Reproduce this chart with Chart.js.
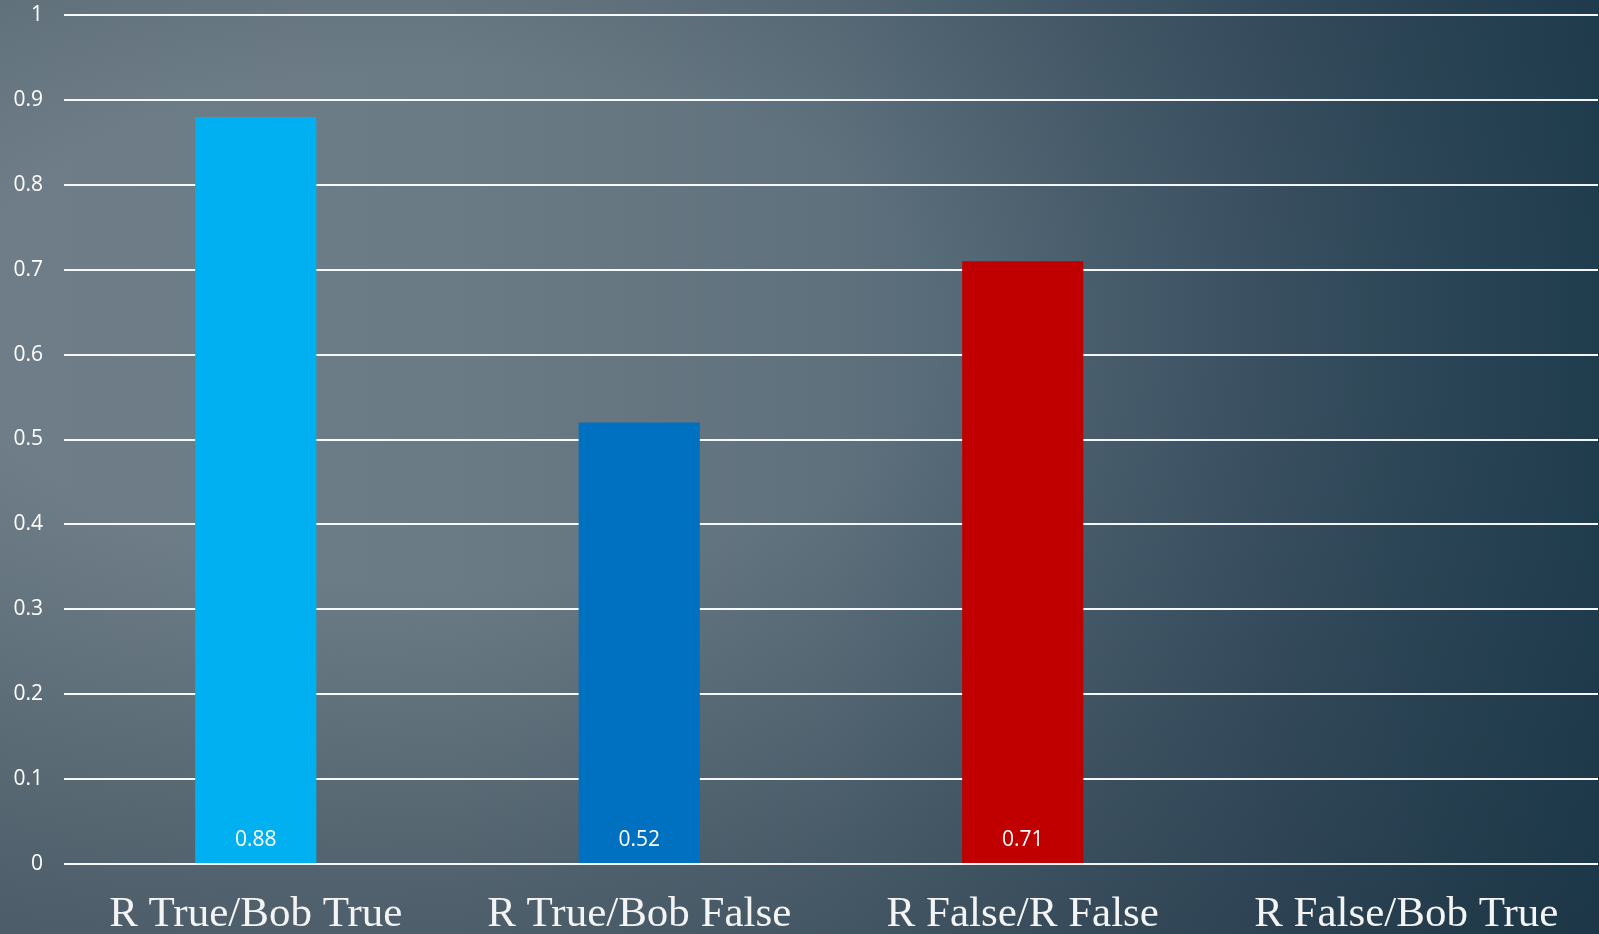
<!DOCTYPE html>
<html>
<head>
<meta charset="utf-8">
<script src="https://cdn.jsdelivr.net/npm/chart.js@4/dist/chart.umd.min.js"></script>
<style>
  html, body { margin: 0; padding: 0; }
  body {
    width: 1599px; height: 934px; overflow: hidden;
    background:
      radial-gradient(ellipse farthest-corner at 28% 35%, rgba(20,40,55,0) 30%, rgba(20,40,55,0.3) 65%, rgba(20,40,55,0.55) 100%),
      linear-gradient(to right, #6e7d87 0%, #6b7b85 28%, #5f717d 52%, #43596a 78%, #26485a 100%);
  }
  #wrap { position: absolute; left: 0; top: 0; width: 1599px; height: 934px; }
</style>
</head>
<body>
<div id="wrap"><canvas id="c" width="1599" height="934"></canvas></div>
<script>
const categories = ["R True/Bob True", "R True/Bob False", "R False/R False", "R False/Bob True"];
const values = [0.88, 0.52, 0.71, null];
const barColors = ["#00b0f0", "#0070c0", "#c00000", "#7f7f7f"];
const yTickMin = 0;
const yTickMax = 1;
const yTickStep = 0.1;

const valueLabels = {
  id: 'valueLabels',
  afterDatasetsDraw(chart) {
    const ctx = chart.ctx;
    const meta = chart.getDatasetMeta(0);
    const yBase = chart.scales.y.getPixelForValue(0);
    ctx.save();
    ctx.font = '21px "Open Sans"';
    ctx.fillStyle = '#ffffff';
    ctx.textAlign = 'center';
    ctx.textBaseline = 'middle';
    meta.data.forEach((bar, i) => {
      const v = chart.data.datasets[0].data[i];
      if (v === null || v === undefined) return;
      ctx.fillText(String(v), bar.x, yBase - 24);
    });
    ctx.restore();
  }
};

new Chart(document.getElementById('c'), {
  type: 'bar',
  data: {
    labels: categories,
    datasets: [{
      data: values,
      backgroundColor: barColors,
      borderWidth: 0,
      barPercentage: 0.316,
      categoryPercentage: 1.0
    }]
  },
  options: {
    responsive: false,
    animation: false,
    layout: { padding: { top: 15, right: 1, left: 0, bottom: 0 } },
    plugins: { legend: { display: false }, tooltip: { enabled: false } },
    scales: {
      x: {
        grid: { display: false, drawTicks: false },
        border: { display: false },
        ticks: {
          color: '#f4f4f4',
          font: { family: '"Liberation Serif", serif', size: 43 },
          padding: 25,
          maxRotation: 0,
          autoSkip: false
        },
        afterFit(scale) { scale.height = 70; scale.paddingTop = 0; }
      },
      y: {
        min: yTickMin,
        max: yTickMax,
        grid: { color: 'rgba(255,255,255,0.95)', lineWidth: 2, drawTicks: false },
        border: { display: false },
        ticks: {
          stepSize: yTickStep,
          color: '#ffffff',
          font: { family: '"Open Sans", sans-serif', size: 21 },
          padding: 21,
          callback: (v) => String(Math.round(v * 10) / 10)
        },
        afterFit(scale) { scale.width = 64; scale.paddingTop = 0; scale.paddingBottom = 0; }
      }
    }
  },
  plugins: [valueLabels]
});
</script>
</body>
</html>
